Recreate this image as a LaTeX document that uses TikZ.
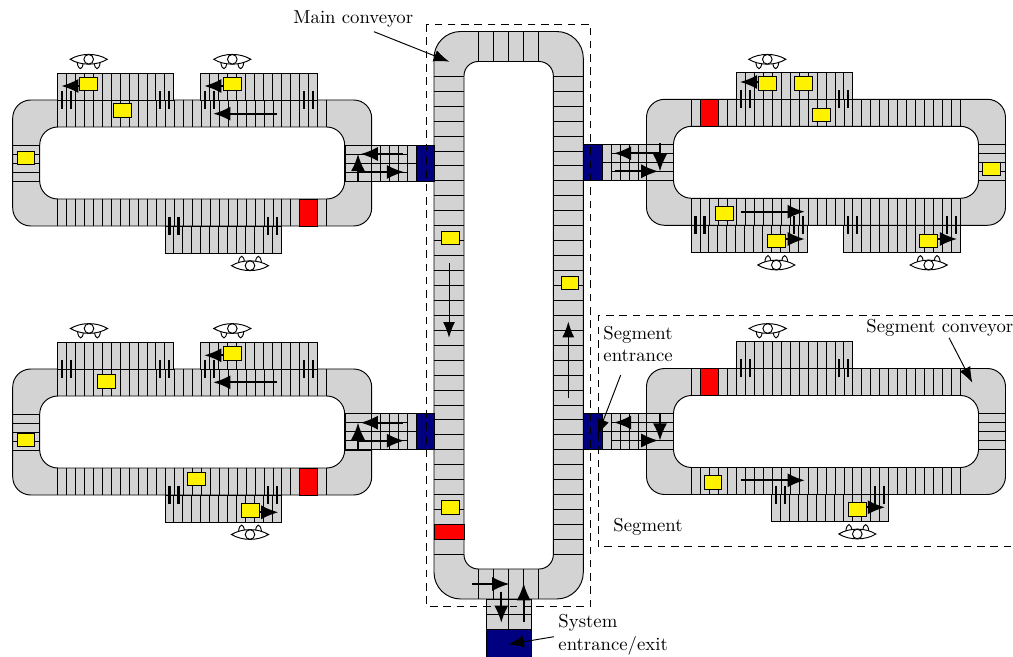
\documentclass[tikz,border=0pt]{standalone}
\usetikzlibrary{arrows.meta}

\definecolor{beltgray}{HTML}{D3D3D3}
\definecolor{gatenavy}{HTML}{000080}

\tikzset{
  cargo/.style={draw, fill=yellow, inner sep=0pt, minimum width=9.4pt, minimum height=7.1pt},
  flow/.style={-{Latex[length=9pt,width=7.4pt]}, line width=0.95pt},
  thinflow/.style={-{Latex[length=8.2pt,width=6.2pt]}, line width=0.5pt},
  tick/.style={line width=1.1pt},
  boundary/.style={dash pattern=on 4pt off 3pt},
  label/.style={inner sep=0pt, anchor=west, align=left},
  operator/.pic={
    \draw[fill=white] (-11.5,3) .. controls (-10.5,11.5) and (-6,11.5) .. (-5.5,3) -- cycle;
    \draw[fill=white] (5.5,3) .. controls (6,11.5) and (10.5,11.5) .. (11.5,3) -- cycle;
    \draw[fill=white] (-18.5,0) .. controls (-8,-6.5) and (8,-6.5) .. (18.5,0)
      .. controls (8,6.5) and (-8,6.5) .. (-18.5,0) -- cycle;
    \draw[fill=white] (0,0) circle (4.8);
  }
}

% one segment loop, #1 #2 = top left corner of the outer edge
\newcommand{\segmentloop}[2]{
  \begin{scope}[shift={(#1,#2)}]
    \draw[fill=beltgray, even odd rule]
      [rounded corners=9.5pt] (0,0) rectangle (359,126)
      (27,27) rectangle (332,99);
    \foreach \k in {0,...,30} {
      \draw ({45+\k*8.97},0) -- ({45+\k*8.97},27);
      \draw ({45+\k*8.97},99) -- ({45+\k*8.97},126);
    }
    \foreach \k in {45,54,63,72,81} {
      \draw (0,\k) -- (27,\k);
      \draw (332,\k) -- (359,\k);
    }
  \end{scope}
}

% one station, #1 #2 = left end and the belt line it hangs on, #3 = 1 above, -1 below
\newcommand{\station}[3]{
  \begin{scope}[shift={(#1,#2)}, yscale=#3]
    \draw[fill=beltgray] (0,0) rectangle (116.6,-27);
    \foreach \k in {0,...,13} \draw ({\k*8.97},0) -- ({\k*8.97},-27);
    \draw (0,0) -- (116.6,0);
    \foreach \k in {4.5,13.5,103,112} \draw[tick] (\k,9) -- (\k,-9);
  \end{scope}
}

% entrance on the right of a segment, #1 = height of its middle
\newcommand{\entranceleft}[1]{
  \begin{scope}[shift={(0,#1)}]
    \draw[fill=beltgray] (345,-18) rectangle (416,18);
    \draw (345,0) -- (416,0);
    \foreach \k in {-9,9} \draw (345,\k) -- (407.5,\k);
    \foreach \k in {371.5,380.5,389.5,398.5,407.5} \draw (\k,-18) -- (\k,18);
    \draw[fill=gatenavy] (416,-18) rectangle (434,18);
    \draw[flow] (358,18) -- (358,-9);
    \draw[flow] (402.7,-9) -- (360.7,-9);
    \draw[flow] (358,9) -- (404,9);
  \end{scope}
}

% entrance on the left of a segment, #1 = height of its middle
\newcommand{\entranceright}[1]{
  \begin{scope}[shift={(0,#1)}]
    \draw[fill=beltgray] (602,-18) rectangle (673.3,18);
    \draw (602,0) -- (673.3,0);
    \foreach \k in {-9,9} \draw (611,\k) -- (673.3,\k);
    \foreach \k in {611,620,629,638,646.5} \draw (\k,-18) -- (\k,18);
    \draw[fill=gatenavy] (583.3,-18) rectangle (602,18);
    \draw[flow] (660,-19) -- (660,9);
    \draw[flow] (660,-9) -- (614,-9);
    \draw[flow] (615.3,9) -- (658.3,9);
  \end{scope}
}

\begin{document}
\begin{tikzpicture}[x=0.526pt, y=-0.526pt, line width=0.5pt, font=\fontsize{9.85}{12}\selectfont]
  \useasboundingbox (0,0) rectangle (1013,657);

  % main conveyor
  \draw[fill=beltgray, even odd rule]
    [rounded corners=14pt] (434,31.5) rectangle (583.3,599)
    [rounded corners=7.5pt] (464,61.5) rectangle (553.3,569);
  \foreach \k in {0,...,32} {
    \draw (434,{76.3+\k*14.94}) -- (464,{76.3+\k*14.94});
    \draw (553.3,{76.3+\k*14.94}) -- (583.3,{76.3+\k*14.94});
  }
  \foreach \k in {0,...,4} {
    \draw ({478.7+\k*15},31.5) -- ({478.7+\k*15},61.5);
    \draw ({478.7+\k*15},569) -- ({478.7+\k*15},599);
  }
  \draw[fill=red] (434,524.3) rectangle (464,539.3);

  % system entrance below the main conveyor
  \draw[fill=beltgray] (486.3,599) rectangle (531,629);
  \draw (508.7,599) -- (508.7,629);
  \draw (486.3,614) -- (531,614);
  \draw[fill=gatenavy] (486.3,629) rectangle (531,657);
  \draw[flow] (471.7,584) -- (509.3,584);
  \draw[flow] (501.3,591.7) -- (501.3,622.7);
  \draw[flow] (523.7,621.7) -- (523.7,583.3);
  \draw[thinflow] (449,263.3) -- (449,337.7);
  \draw[thinflow] (568.3,397.7) -- (568.3,321.7);

  % the four segments
  \segmentloop{12.7}{100}
  \segmentloop{12.7}{369}
  \segmentloop{646.5}{99.3}
  \segmentloop{646.5}{368.5}

  % stations, top left segment first
  \station{57.3}{100}{1}
  \station{200.7}{100}{1}
  \station{165}{226}{-1}
  \station{57.3}{369}{1}
  \station{200.7}{369}{1}
  \station{165}{495}{-1}
  \station{736.3}{99.3}{1}
  \station{691}{225.3}{-1}
  \station{843.7}{225.3}{-1}
  \station{736.3}{368.5}{1}
  \station{771.7}{494.5}{-1}

  % operators
  \foreach \x/\y in {88.7/59.3, 232.3/59.3, 89/328.5, 232.3/328.5, 767.3/59.3, 767.7/328.5}
    \pic at (\x,\y) {operator};
  \foreach \x/\y in {250/265.7, 250/534.5, 776.3/265, 928.7/265, 857.3/534}
    \pic[yscale=-1] at (\x,\y) {operator};

  % blocked places
  \foreach \x/\y in {299.3/199, 299.3/468, 700.5/99.3, 700.5/368.5}
    \draw[fill=red] (\x,\y) rectangle ++(18,27);

  \entranceleft{163}
  \entranceleft{431.7}
  \entranceright{162.3}
  \entranceright{431.5}

  % moving directions on the belts
  \draw[flow] (88,86) -- (61.3,86);
  \draw[flow] (232,86) -- (204.3,86);
  \draw[flow] (276.7,113.7) -- (213.3,113.7);
  \draw[flow] (232,355.3) -- (204.3,355.3);
  \draw[flow] (276.7,382.3) -- (213.3,382.3);
  \draw[flow] (250,512.3) -- (278.3,512.3);
  \draw[flow] (767,82) -- (740,82);
  \draw[flow] (741,211.7) -- (804.7,211.7);
  \draw[flow] (776,239) -- (804.7,239);
  \draw[flow] (928,239) -- (957,239);
  \draw[flow] (741,480.3) -- (804.7,480.3);
  \draw[flow] (857,507.3) -- (885,507.3);

  % carriers
  \foreach \x/\y [count=\i] in {88.7/84, 122.3/110.3, 232.3/84, 26/158,
      106.7/381.3, 232.3/353.3, 26/440, 196.3/479, 250.3/510.3,
      767.3/83.7, 803.3/83.7, 821.3/115, 724.3/213.7, 776.3/241, 928.7/241, 991.3/169,
      713/482.7, 857.3/509.7, 450.3/238, 450.3/507.3, 570/283}
    \node[cargo] (carrier\i) at (\x,\y) {};

  % dashed boundaries
  \draw[boundary] (426.7,24) rectangle (590.7,606.3);
  \draw[boundary] (1013,315.5) -- (598.3,315.5) -- (598.3,546.7) -- (1013,546.7);

  % labels
  \node[label] (mainlabel) at (293,19) {Main conveyor};
  \node[label] (entrylabel) at (603,344) {Segment\\entrance};
  \node[label] (beltlabel) at (866,328) {Segment conveyor};
  \node[label] (segmentlabel) at (613,527) {Segment};
  \node[label] (systemlabel) at (558,635) {System\\entrance/exit};

  \coordinate (mainend) at (449.3,61.7);
  \coordinate (mainstart) at (374,31.7);
  \coordinate (entrystart) at (620.7,375);
  \coordinate (entryend) at (597.7,435);
  \coordinate (beltstart) at (949,337.7);
  \coordinate (beltend) at (972.3,382.7);
  \coordinate (systemstart) at (554,636.7);
  \coordinate (systemend) at (508.3,644.3);
  \draw[thinflow] (mainstart) -- (mainend);
  \draw[thinflow] (entrystart) -- (entryend);
  \draw[thinflow] (beltstart) -- (beltend);
  \draw[thinflow] (systemstart) -- (systemend);
\end{tikzpicture}
\end{document}
